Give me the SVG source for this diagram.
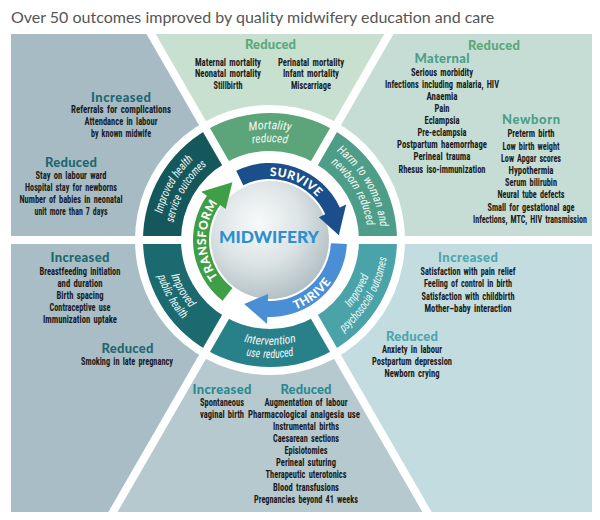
<svg xmlns="http://www.w3.org/2000/svg" width="600" height="520" viewBox="0 0 600 520">
<defs>
<style>
.t{font-family:"Roboto Condensed","Open Sans Condensed","DejaVu Sans Condensed","Liberation Sans Narrow","Liberation Sans",sans-serif;font-size:10.5px;font-weight:bold;fill:#1b1b1b;text-anchor:middle;word-spacing:1.6px}
.h{font-family:Lato,"Liberation Sans",sans-serif;font-weight:900;font-size:13px;text-anchor:middle}
.g{fill:#5ba77c}.gt{fill:#4e9f88}.d{fill:#1e6870}.b{fill:#4ca6ae}.m{fill:#2b8a90}
.seg{font-family:"Roboto Condensed","Open Sans Condensed","DejaVu Sans Condensed","Liberation Sans Narrow","Liberation Sans",sans-serif;font-style:italic;font-size:12px;fill:#f2f7f4;text-anchor:middle;word-spacing:1px}
.arw{font-family:Lato,"Liberation Sans",sans-serif;font-weight:900;font-size:12px;fill:#ffffff;text-anchor:middle;letter-spacing:0.5px}
.ray{stroke:#ffffff;stroke-width:8}
.title{font-family:Lato,"Open Sans","Liberation Sans",sans-serif;font-size:16px;fill:#555555}
</style>
<clipPath id="panelClip"><rect x="0" y="34" width="600" height="486"/></clipPath>
<radialGradient id="sph" cx="0.4" cy="0.35" r="0.7">
<stop offset="0" stop-color="#f8fafa"/>
<stop offset="0.5" stop-color="#dde4e5"/>
<stop offset="1" stop-color="#aebdc1"/>
</radialGradient>
<path id="pM1" d="M214.5,143.87 A111,111 0 0 1 325.5,143.87"/>
<path id="pM2" d="M221,155.13 A98,98 0 0 1 319,155.13"/>
<path id="pH1" d="M325.5,143.87 A111,111 0 0 1 381,240"/>
<path id="pH2" d="M319,155.13 A98,98 0 0 1 368,240"/>
<path id="pS1" d="M159,240 A111,111 0 0 1 214.5,143.87"/>
<path id="pS2" d="M172,240 A98,98 0 0 1 221,155.13"/>
<path id="pP1" d="M322.5,330.93 A105,105 0 0 0 375,240"/>
<path id="pP2" d="M329,342.19 A118,118 0 0 0 388,240"/>
<path id="pI1" d="M217.5,330.93 A105,105 0 0 0 322.5,330.93"/>
<path id="pI2" d="M211,342.19 A118,118 0 0 0 329,342.19"/>
<path id="pU1" d="M165,240 A105,105 0 0 0 217.5,330.93"/>
<path id="pU2" d="M152,240 A118,118 0 0 0 211,342.19"/>
<path id="pSurv" d="M232.38,188.22 A64,64 0 0 1 333.65,233.31"/>
<path id="pThr" d="M242.28,308.61 A74,74 0 0 0 343.28,229.70"/>
<path id="pTr" d="M238,295.43 A64,64 0 0 1 238,184.57"/>
</defs>
<rect width="600" height="520" fill="#ffffff"/>
<text class="title" x="11" y="23">Over 50 outcomes improved by quality midwifery education and care</text>

<g id="panels">
<polygon points="270,240 389,34 592,34 592,240" fill="#c5ddd5"/>
<polygon points="270,240 592,240 592,512 427,512" fill="#c2dce0"/>
<polygon points="270,240 427,512 113,512" fill="#b6c9ce"/>
<polygon points="270,240 113,512 11,512 11,240" fill="#a9bdc6"/>
<polygon points="270,240 11,240 11,34 151,34" fill="#a7bbc4"/>
<polygon points="270,240 151,34 389,34" fill="#c8e0cf"/>
<circle cx="270" cy="240" r="135" fill="#ffffff"/>
</g>

<g id="ring">
<path id="seg-mortality" d="M206.5,130.01 A127,127 0 0 1 333.5,130.01 L314.5,162.92 A89,89 0 0 0 225.5,162.92Z" fill="#5ca57b"/>
<path id="seg-harm" d="M333.5,130.01 A127,127 0 0 1 397,240 L359,240 A89,89 0 0 0 314.5,162.92Z" fill="#4d9d89"/>
<path id="seg-psycho" d="M397,240 A127,127 0 0 1 333.5,349.99 L314.5,317.08 A89,89 0 0 0 359,240Z" fill="#4aa3a9"/>
<path id="seg-intervention" d="M333.5,349.99 A127,127 0 0 1 206.5,349.99 L225.5,317.08 A89,89 0 0 0 314.5,317.08Z" fill="#288089"/>
<path id="seg-public" d="M206.5,349.99 A127,127 0 0 1 143,240 L181,240 A89,89 0 0 0 225.5,317.08Z" fill="#1a6a70"/>
<path id="seg-service" d="M143,240 A127,127 0 0 1 206.5,130.01 L225.5,162.92 A89,89 0 0 0 181,240Z" fill="#15585c"/>
</g>
<g id="rays" clip-path="url(#panelClip)">
<line class="ray" x1="355" y1="240" x2="720" y2="240"/>
<line class="ray" x1="312.5" y1="313.6" x2="495" y2="629.7"/>
<line class="ray" x1="227.5" y1="313.6" x2="45" y2="629.7"/>
<line class="ray" x1="185" y1="240" x2="-180" y2="240"/>
<line class="ray" x1="227.5" y1="166.4" x2="45" y2="-149.7"/>
<line class="ray" x1="312.5" y1="166.4" x2="495" y2="-149.7"/>
</g>

<g id="node-mortality">
<text class="seg"><textPath href="#pM1" startOffset="50%" textLength="42" lengthAdjust="spacingAndGlyphs">Mortality</textPath></text>
<text class="seg"><textPath href="#pM2" startOffset="50%" textLength="35" lengthAdjust="spacingAndGlyphs">reduced</textPath></text>
</g>
<g id="node-harm">
<text class="seg"><textPath href="#pH1" startOffset="50%" textLength="90" lengthAdjust="spacingAndGlyphs">Harm to woman and</textPath></text>
<text class="seg"><textPath href="#pH2" startOffset="50%" textLength="74" lengthAdjust="spacingAndGlyphs">newborn reduced</textPath></text>
</g>
<g id="node-psycho">
<text class="seg"><textPath href="#pP1" startOffset="50%" textLength="37" lengthAdjust="spacingAndGlyphs">Improved</textPath></text>
<text class="seg"><textPath href="#pP2" startOffset="50%" textLength="88" lengthAdjust="spacingAndGlyphs">psychosocial outcomes</textPath></text>
</g>
<g id="node-intervention">
<text class="seg"><textPath href="#pI1" startOffset="50%" textLength="53" lengthAdjust="spacingAndGlyphs">Intervention</textPath></text>
<text class="seg"><textPath href="#pI2" startOffset="50%" textLength="48" lengthAdjust="spacingAndGlyphs">use reduced</textPath></text>
</g>
<g id="node-public">
<text class="seg"><textPath href="#pU1" startOffset="50%" textLength="38" lengthAdjust="spacingAndGlyphs">Improved</textPath></text>
<text class="seg"><textPath href="#pU2" startOffset="50%" textLength="50" lengthAdjust="spacingAndGlyphs">public health</textPath></text>
</g>
<g id="node-service">
<text class="seg"><textPath href="#pS1" startOffset="50%" textLength="63" lengthAdjust="spacingAndGlyphs">Improved health</textPath></text>
<text class="seg"><textPath href="#pS2" startOffset="50%" textLength="68" lengthAdjust="spacingAndGlyphs">service outcomes</textPath></text>
</g>

<g id="node-midwifery">
<circle cx="270" cy="240" r="59" fill="url(#sph)"/>
<text x="269" y="242.5" font-family="Lato,'Liberation Sans',sans-serif" font-weight="900" font-size="17" fill="#2a90d2" text-anchor="middle" textLength="100" lengthAdjust="spacingAndGlyphs">MIDWIFERY</text>
</g>

<g id="connectors">
<path id="arrow-transform" d="M222.59,300.68 A77,77 0 0 1 206.92,195.83 L201.19,191.82 L232.42,182.13 L225.76,209.03 L220.03,205.01 A61,61 0 0 0 232.44,288.07Z" fill="#3f9f46"/>
<path id="arrow-survive" d="M236.24,170.79 A77,77 0 0 1 339.79,207.46 L346.13,204.50 L338.83,235.18 L318.94,217.18 L325.28,214.22 A61,61 0 0 0 243.26,185.17Z" fill="#1b4f8c"/>
<path id="arrow-thrive" d="M346.89,244.03 A77,77 0 0 1 267.31,316.95 L267.07,323.95 L244.15,303.98 L268.12,293.97 L267.87,300.96 A61,61 0 0 0 330.92,243.19Z" fill="#4a8ed6"/>
<text class="arw"><textPath href="#pSurv" startOffset="50%">SURVIVE</textPath></text>
<text class="arw"><textPath href="#pThr" startOffset="50%">THRIVE</textPath></text>
<text class="arw"><textPath href="#pTr" startOffset="50%">TRANSFORM</textPath></text>
</g>

<g id="panel-top">
<text class="h g" x="270.5" y="49.3" textLength="51">Reduced</text>
<text class="t" x="228" y="65.7" textLength="66" lengthAdjust="spacingAndGlyphs">Maternal mortality</text>
<text class="t" x="228" y="77.3" textLength="66" lengthAdjust="spacingAndGlyphs">Neonatal mortality</text>
<text class="t" x="228" y="89" textLength="29" lengthAdjust="spacingAndGlyphs">Stillbirth</text>
<text class="t" x="311" y="65.7" textLength="66" lengthAdjust="spacingAndGlyphs">Perinatal mortality</text>
<text class="t" x="311" y="77.3" textLength="56" lengthAdjust="spacingAndGlyphs">Infant mortality</text>
<text class="t" x="311" y="89" textLength="40" lengthAdjust="spacingAndGlyphs">Miscarriage</text>
</g>

<g id="panel-top-right">
<text class="h g" x="494" y="50" textLength="52">Reduced</text>
<text class="h gt" x="442" y="63.3" textLength="55">Maternal</text>
<text class="t" x="442" y="75.7" textLength="62" lengthAdjust="spacingAndGlyphs">Serious morbidity</text>
<text class="t" x="442" y="87.8" textLength="114" lengthAdjust="spacingAndGlyphs">Infections including malaria, HIV</text>
<text class="t" x="442" y="99.9" textLength="31" lengthAdjust="spacingAndGlyphs">Anaemia</text>
<text class="t" x="442" y="112" textLength="15" lengthAdjust="spacingAndGlyphs">Pain</text>
<text class="t" x="442" y="124.1" textLength="35" lengthAdjust="spacingAndGlyphs">Eclampsia</text>
<text class="t" x="442" y="136.2" textLength="49" lengthAdjust="spacingAndGlyphs">Pre-eclampsia</text>
<text class="t" x="442" y="148.3" textLength="90" lengthAdjust="spacingAndGlyphs">Postpartum haemorrhage</text>
<text class="t" x="442" y="160.4" textLength="57" lengthAdjust="spacingAndGlyphs">Perineal trauma</text>
<text class="t" x="442" y="172.5" textLength="87" lengthAdjust="spacingAndGlyphs">Rhesus iso-immunization</text>
<text class="h gt" x="531" y="124.3" textLength="58">Newborn</text>
<text class="t" x="531" y="137.3" textLength="47" lengthAdjust="spacingAndGlyphs">Preterm birth</text>
<text class="t" x="531" y="149.5" textLength="57" lengthAdjust="spacingAndGlyphs">Low birth weight</text>
<text class="t" x="531" y="161.7" textLength="60" lengthAdjust="spacingAndGlyphs">Low Apgar scores</text>
<text class="t" x="531" y="173.9" textLength="45" lengthAdjust="spacingAndGlyphs">Hypothermia</text>
<text class="t" x="531" y="186.1" textLength="52" lengthAdjust="spacingAndGlyphs">Serum bilirubin</text>
<text class="t" x="531" y="198.3" textLength="67" lengthAdjust="spacingAndGlyphs">Neural tube defects</text>
<text class="t" x="531" y="210.5" textLength="87" lengthAdjust="spacingAndGlyphs">Small for gestational age</text>
<text class="t" x="530" y="222.7" textLength="114" lengthAdjust="spacingAndGlyphs">Infections, MTC, HIV transmission</text>
</g>

<g id="panel-top-left">
<text class="h d" x="121" y="101.7" textLength="60">Increased</text>
<text class="t" x="121" y="112.9" textLength="100" lengthAdjust="spacingAndGlyphs">Referrals for complications</text>
<text class="t" x="121" y="124.8" textLength="73" lengthAdjust="spacingAndGlyphs">Attendance in labour</text>
<text class="t" x="121" y="136.6" textLength="60" lengthAdjust="spacingAndGlyphs">by known midwife</text>
<text class="h d" x="71" y="166.7" textLength="52">Reduced</text>
<text class="t" x="71" y="179" textLength="71" lengthAdjust="spacingAndGlyphs">Stay on labour ward</text>
<text class="t" x="71" y="191.2" textLength="92" lengthAdjust="spacingAndGlyphs">Hospital stay for newborns</text>
<text class="t" x="71" y="203.3" textLength="103" lengthAdjust="spacingAndGlyphs">Number of babies in neonatal</text>
<text class="t" x="71" y="215.4" textLength="73" lengthAdjust="spacingAndGlyphs">unit more than 7 days</text>
</g>

<g id="panel-bottom-left">
<text class="h d" x="80" y="261.7" textLength="59">Increased</text>
<text class="t" x="80" y="275" textLength="81" lengthAdjust="spacingAndGlyphs">Breastfeeding initiation</text>
<text class="t" x="80" y="287" textLength="45" lengthAdjust="spacingAndGlyphs">and duration</text>
<text class="t" x="80" y="299" textLength="47" lengthAdjust="spacingAndGlyphs">Birth spacing</text>
<text class="t" x="80" y="311.1" textLength="61" lengthAdjust="spacingAndGlyphs">Contraceptive use</text>
<text class="t" x="80" y="323.2" textLength="74" lengthAdjust="spacingAndGlyphs">Immunization uptake</text>
<text class="h d" x="127.5" y="353.3" textLength="52">Reduced</text>
<text class="t" x="127" y="365" textLength="92" lengthAdjust="spacingAndGlyphs">Smoking in late pregnancy</text>
</g>

<g id="panel-bottom-right">
<text class="h b" x="468" y="261.7" textLength="60">Increased</text>
<text class="t" x="468" y="275" textLength="95" lengthAdjust="spacingAndGlyphs">Satisfaction with pain relief</text>
<text class="t" x="468" y="287.3" textLength="88" lengthAdjust="spacingAndGlyphs">Feeling of control in birth</text>
<text class="t" x="468" y="299.6" textLength="93" lengthAdjust="spacingAndGlyphs">Satisfaction with childbirth</text>
<text class="t" x="468" y="311.9" textLength="87" lengthAdjust="spacingAndGlyphs">Mother–baby interaction</text>
<text class="h b" x="412" y="340.7" textLength="52">Reduced</text>
<text class="t" x="412" y="352.7" textLength="60" lengthAdjust="spacingAndGlyphs">Anxiety in labour</text>
<text class="t" x="412" y="364.9" textLength="80" lengthAdjust="spacingAndGlyphs">Postpartum depression</text>
<text class="t" x="412" y="377.1" textLength="55" lengthAdjust="spacingAndGlyphs">Newborn crying</text>
</g>

<g id="panel-bottom">
<text class="h m" x="222" y="394" textLength="59">Increased</text>
<text class="t" x="222" y="406" textLength="44" lengthAdjust="spacingAndGlyphs">Spontaneous</text>
<text class="t" x="222" y="417.8" textLength="44" lengthAdjust="spacingAndGlyphs">vaginal birth</text>
<text class="h m" x="306" y="394" textLength="51">Reduced</text>
<text class="t" x="306" y="406" textLength="83" lengthAdjust="spacingAndGlyphs">Augmentation of labour</text>
<text class="t" x="304" y="417.8" textLength="112" lengthAdjust="spacingAndGlyphs">Pharmacological analgesia use</text>
<text class="t" x="306" y="429.9" textLength="66" lengthAdjust="spacingAndGlyphs">Instrumental births</text>
<text class="t" x="306" y="442" textLength="66" lengthAdjust="spacingAndGlyphs">Caesarean sections</text>
<text class="t" x="306" y="454.1" textLength="43" lengthAdjust="spacingAndGlyphs">Episiotomies</text>
<text class="t" x="306" y="466.2" textLength="60" lengthAdjust="spacingAndGlyphs">Perineal suturing</text>
<text class="t" x="306" y="478.4" textLength="81" lengthAdjust="spacingAndGlyphs">Therapeutic uterotonics</text>
<text class="t" x="306" y="490.6" textLength="66" lengthAdjust="spacingAndGlyphs">Blood transfusions</text>
<text class="t" x="306" y="502.8" textLength="104" lengthAdjust="spacingAndGlyphs">Pregnancies beyond 41 weeks</text>
</g>
</svg>
